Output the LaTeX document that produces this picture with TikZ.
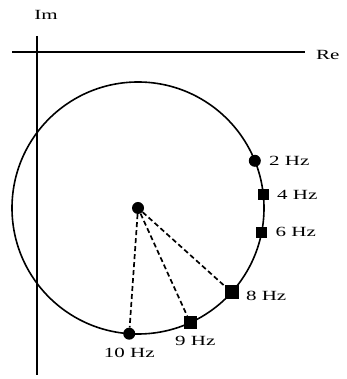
\documentclass[tikz,border=0pt]{standalone}
\usepackage{fontspec}
\setmainfont{Liberation Serif}
\usepackage{graphicx}
\usetikzlibrary{positioning}

\newcommand{\wide}[1]{\scalebox{1.5}[1]{#1}}

\tikzset{
  axisline/.style={draw=black,line width=1.6pt},
  dotmark/.style={circle,fill=black,inner sep=0pt,minimum size=12pt},
  sqmark/.style={rectangle,fill=black,inner sep=0pt,minimum size=11pt},
  hzlabel/.style={font=\fontsize{14}{14}\selectfont,inner sep=0pt},
  radius line/.style={draw=black,line width=1.7pt,dash pattern=on 5pt off 3pt}
}

\begin{document}
\begin{tikzpicture}[x=1pt,y=1pt]
\useasboundingbox (0,0) rectangle (346,379);
% axes
\coordinate (imtop) at (37,343);
\coordinate (imbot) at (37,4);
\coordinate (releft) at (12,327);
\coordinate (reright) at (305,327);
\path[axisline] (imtop) -- (imbot);
\path[axisline] (releft) -- (reright);
\node[hzlabel] (im) at (46,364) {\wide{Im}};
\node[hzlabel,anchor=west] (re) at (316,324) {\wide{Re}};
% locus circle
\coordinate (c) at (138,171);
\path[draw=black,line width=1.6pt] (c) circle (126);
% frequency points
\node[dotmark] (f2) at ([shift={(22:126)}]c) {};
\node[sqmark] (f4) at ([shift={(6:126)}]c) {};
\node[sqmark] (f6) at ([shift={(-11:126)}]c) {};
\node[sqmark,minimum size=14pt] (f8) at ([shift={(-42:126)}]c) {};
\node[sqmark,minimum size=13pt] (f9) at ([shift={(-65.5:126)}]c) {};
\node[dotmark] (f10) at ([shift={(-94:126)}]c) {};
\node[dotmark] (ctr) at (c) {};
% radii
\path[radius line] (ctr) -- (f8);
\path[radius line] (ctr) -- (f9);
\path[radius line] (ctr) -- (f10);
% labels
\node[hzlabel,right=8pt of f2] (l2) {\wide{2 Hz}};
\node[hzlabel,right=8pt of f4] (l4) {\wide{4 Hz}};
\node[hzlabel,right=8pt of f6] (l6) {\wide{6 Hz}};
\node[hzlabel,right=7pt of f8,yshift=-4pt] (l8) {\wide{8 Hz}};
\node[hzlabel,below=7pt of f9,xshift=5pt] (l9) {\wide{9 Hz}};
\node[hzlabel,below=8pt of f10] (l10) {\wide{10 Hz}};
\end{tikzpicture}
\end{document}
